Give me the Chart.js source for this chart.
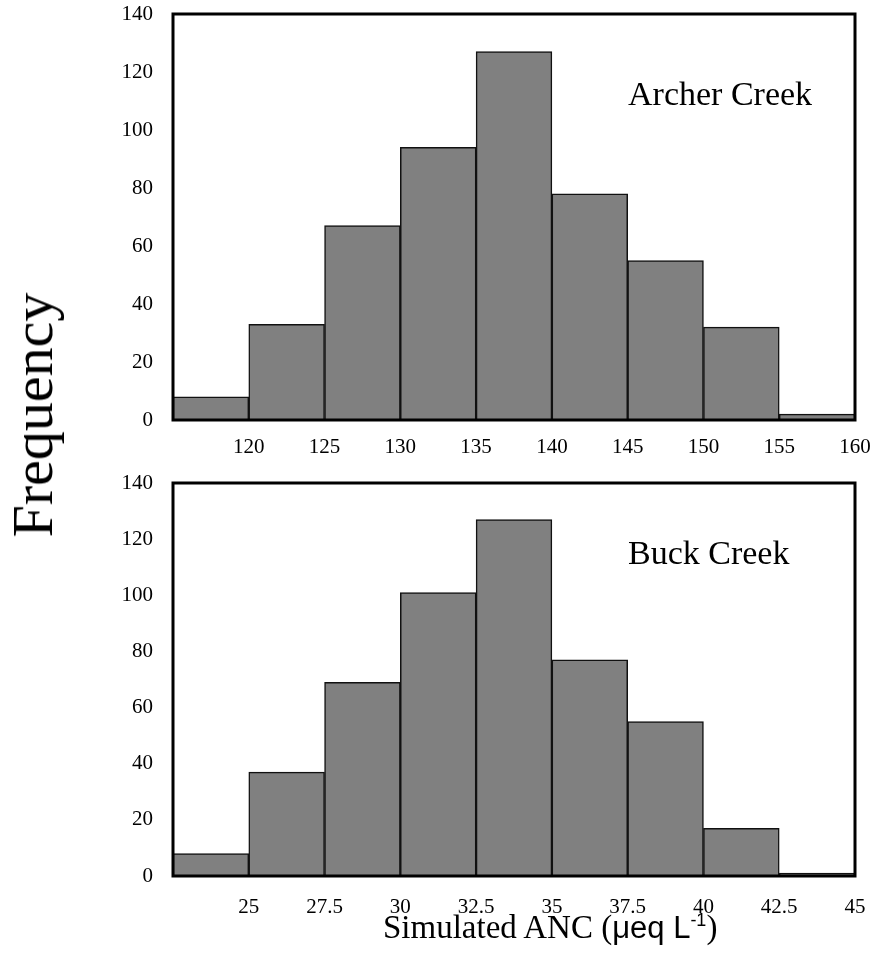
<!DOCTYPE html>
<html>
<head>
<meta charset="utf-8">
<script src="https://cdn.jsdelivr.net/npm/chart.js@4.4.1/dist/chart.umd.min.js"></script>
<style>
  html, body { margin: 0; padding: 0; background: #fff; }
  #wrap { position: relative; width: 880px; height: 963px; overflow: hidden; }
  #topBox { position: absolute; left: 0; top: 0; width: 880px; height: 460px; }
  #botBox { position: absolute; left: 0; top: 463px; width: 880px; height: 500px; }
  #yTitle {
    position: absolute; left: 33px; top: 415px;
    font-family: "Liberation Serif", serif; font-size: 58px; color: #000;
    transform: translate(-50%, -50%) rotate(-90deg);
    white-space: nowrap; line-height: 1;
  }
  #xTitle {
    position: absolute; left: 383px; top: 911px;
    font-family: "Liberation Serif", serif; font-size: 33px; color: #000; white-space: nowrap; line-height: 1;
  }
  #xTitle .sans { font-family: "Liberation Sans", Arial, sans-serif; font-size: 31px; }
  #xTitle sup { font-size: 18px; vertical-align: 12px; }
</style>
</head>
<body>
<div id="wrap">
  <div id="topBox"><canvas id="archerChart"></canvas></div>
  <div id="botBox"><canvas id="buckChart"></canvas></div>
  <div id="yTitle">Frequency</div>
  <div id="xTitle">Simulated ANC (<span class="sans">μeq L<sup>-1</sup></span>)</div>
</div>
<script>
// bin centres and counts
const archerBins = [117.5, 122.5, 127.5, 132.5, 137.5, 142.5, 147.5, 152.5, 157.5];
const archerCounts = [8, 33, 67, 94, 127, 78, 55, 32, 2];
const archerTicks = [120, 125, 130, 135, 140, 145, 150, 155, 160];

const buckBins = [23.75, 26.25, 28.75, 31.25, 33.75, 36.25, 38.75, 41.25, 43.75];
const buckCounts = [8, 37, 69, 101, 127, 77, 55, 17, 1];
const buckTicks = [25, 27.5, 30, 32.5, 35, 37.5, 40, 42.5, 45];

const yTicks = [0, 20, 40, 60, 80, 100, 120, 140];

const serif = '"Liberation Serif", "Times New Roman", serif';

// thick frame round the plot area plus the creek name
const framePlugin = {
    id: 'frame',
    afterDatasetsDraw(chart, args, opts) {
        const { ctx, chartArea } = chart;
        ctx.save();
        ctx.strokeStyle = '#000';
        ctx.lineWidth = 3;
        ctx.strokeRect(chartArea.left, chartArea.top,
            chartArea.right - chartArea.left, chartArea.bottom - chartArea.top);
        ctx.fillStyle = '#000';
        ctx.font = '34px ' + serif;
        ctx.textBaseline = 'alphabetic';
        ctx.fillText(opts.label, 628, opts.labelY);
        ctx.restore();
    }
};

function makeChart(id, bins, counts, ticks, min, max, pad, label, labelY) {
    const ctx = document.getElementById(id).getContext('2d');
    return new Chart(ctx, {
        type: 'bar',
        data: {
            datasets: [{
                data: bins.map((b, i) => ({ x: b, y: counts[i] })),
                backgroundColor: '#808080',
                borderColor: '#111',
                borderWidth: 1.5,
                barPercentage: 1,
                categoryPercentage: 1
            }]
        },
        options: {
            responsive: true,
            maintainAspectRatio: false,
            animation: false,
            layout: { padding: { top: pad.top, right: 25, left: 0, bottom: 0 } },
            plugins: {
                legend: { display: false },
                tooltip: { enabled: false },
                frame: { label: label, labelY: labelY }
            },
            scales: {
                x: {
                    type: 'linear',
                    min: min,
                    max: max,
                    offset: false,
                    afterBuildTicks: (scale) => {
                        scale.ticks = [min].concat(ticks).map(v => ({ value: v }));
                    },
                    afterFit: (scale) => { scale.height = pad.xh; },
                    grid: { display: false },
                    border: { display: false },
                    ticks: {
                        padding: pad.xpad,
                        maxRotation: 0,
                        autoSkip: false,
                        color: '#000',
                        font: { family: serif, size: 21 },
                        callback: (v) => (v === min ? '' : String(v))
                    }
                },
                y: {
                    min: 0,
                    max: 140,
                    afterBuildTicks: (scale) => {
                        scale.ticks = yTicks.map(v => ({ value: v }));
                    },
                    afterFit: (scale) => {
                        scale.width = 173;
                        // let layout padding alone decide where the plot starts
                        scale.paddingTop = 0;
                        scale.paddingBottom = 0;
                    },
                    grid: { display: false },
                    border: { display: false },
                    ticks: {
                        padding: 12,
                        color: '#000',
                        font: { family: serif, size: 21 }
                    }
                }
            }
        },
        plugins: [framePlugin]
    });
}

makeChart('archerChart', archerBins, archerCounts, archerTicks, 115, 160,
    { top: 14, xh: 40, xpad: 7 }, 'Archer Creek', 105);
makeChart('buckChart', buckBins, buckCounts, buckTicks, 22.5, 45,
    { top: 20, xh: 87, xpad: 11 }, 'Buck Creek', 101);
</script>
</body>
</html>
